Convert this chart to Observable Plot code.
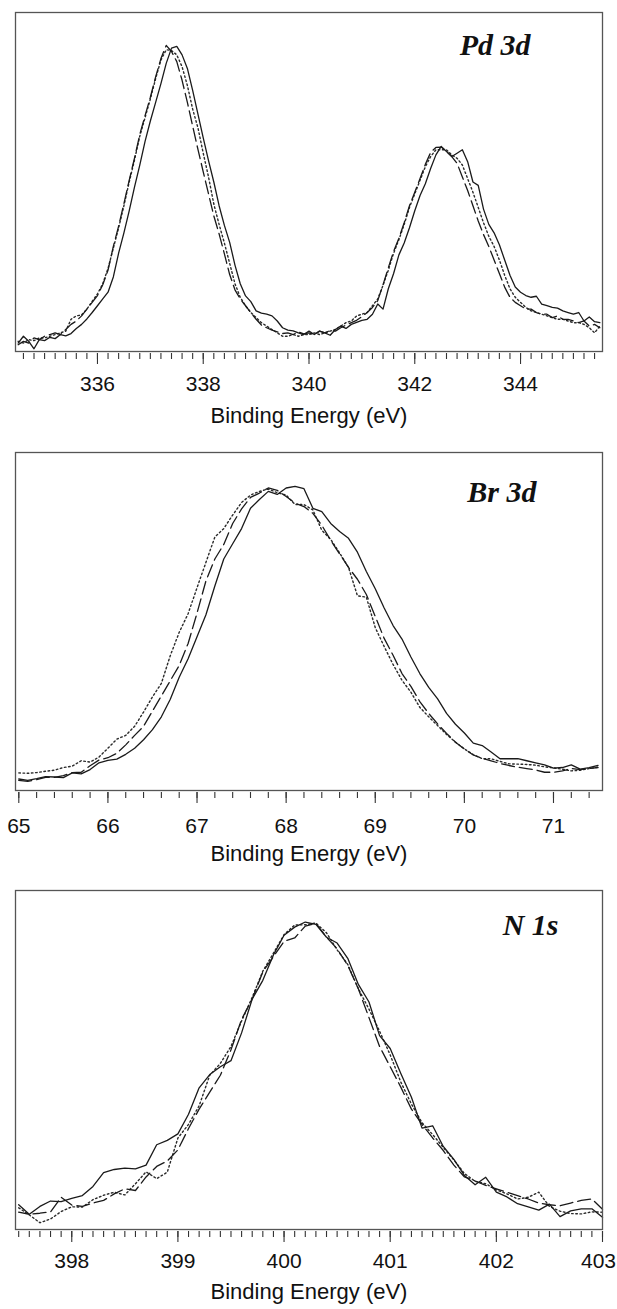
<!DOCTYPE html>
<html><head><meta charset="utf-8">
<script src="https://cdn.jsdelivr.net/npm/d3@7"></script>
<script src="https://cdn.jsdelivr.net/npm/@observablehq/plot@0.6"></script>
<style>
html,body{margin:0;padding:0;background:#fff;}
#chart{width:617px;}
#chart svg{display:block;}
</style></head><body><div id="chart"></div>
<script>
// ---------- Pd 3d ----------
const pdEnergy = [
334.5,334.6,334.7,334.8,334.9,335.0,335.1,335.2,335.3,335.4,
335.5,335.6,335.7,335.8,335.9,336.0,336.1,336.2,336.3,336.4,
336.5,336.6,336.7,336.8,336.9,337.0,337.1,337.2,337.3,337.4,
337.5,337.6,337.7,337.8,337.9,338.0,338.1,338.2,338.3,338.4,
338.5,338.6,338.7,338.8,338.9,339.0,339.1,339.2,339.3,339.4,
339.5,339.6,339.7,339.8,339.9,340.0,340.1,340.2,340.3,340.4,
340.5,340.6,340.7,340.8,340.9,341.0,341.1,341.2,341.3,341.4,
341.5,341.6,341.7,341.8,341.9,342.0,342.1,342.2,342.3,342.4,
342.5,342.6,342.7,342.8,342.9,343.0,343.1,343.2,343.3,343.4,
343.5,343.6,343.7,343.8,343.9,344.0,344.1,344.2,344.3,344.4,
344.5,344.6,344.7,344.8,344.9,345.0,345.1,345.2,345.3,345.4,
345.5];
const pdSolid = [
2.5,4.5,3,0.8,3.5,3.2,4.2,3.8,5,4.6,
5.3,6.8,8,9.6,11.5,13.5,15.5,17.5,22,29,
35,41.5,48.5,55,62,68,73.5,79,85,89.5,
90,87.5,83.5,77,70,63,56.3,50,43,37.2,
32.2,25.5,20,16.4,14.7,12,11.3,11,10.5,9,
7,6.3,6.1,5.5,5,6,5,6,5.5,4.8,
6.5,7.5,6.8,8,8.6,9.2,9.5,11,14,12.5,
18.5,23,28.5,32,36.5,41.5,46,49.5,54,58,
60.5,59,57.5,58.5,59.5,56,50,49,42,37.5,
35,31.5,27,22.5,19,17.5,16.5,16,16.3,14,
13.5,13,12.8,12,11.5,11,11.5,9,10.2,8.8,
8.5];
const pdDashed = [
2,3,2.5,4,3.5,4.5,5,5.5,5,6.5,
8,9,10.5,12.5,14.5,16.5,19.7,24,31,37,
43.6,50.5,57,64,69.6,75,81,86.4,90.3,88.5,
85.5,80,73.5,66.5,59.6,53,46.5,40,34.7,28.8,
22.7,18.2,15.5,13.5,11.5,9.5,7.8,7,6.3,5.8,
5.3,5.5,5,5.8,5.2,5.5,5,6,5.5,6.2,
6,7,7.8,8.5,9.2,10.3,11.5,13,15,19.7,
24.7,29.5,33.4,38,43,47,51,55.2,58.7,60.2,
60.3,59,57.5,55.5,51.5,47.5,43,38.5,34.5,31,
27,23,19,16,14.5,13.5,12.5,12.5,11.5,11,
11,10,10.5,9.5,9.5,9,8.5,9,7.5,8,
7];
const pdDotted = [
3,2.5,3.5,3.2,4,4,4.5,5,5.5,6,
9.5,10.5,10.8,12.5,14.8,17,20,24.5,30.5,36.5,
43,50,56.5,63.5,69,74.5,80.5,86,89,88.8,
87.5,84,78.5,71.5,66,58.5,51.5,43.5,37.5,32,
26,20,16,13.5,11.5,10,8.5,7.5,6.5,5.5,
4.5,4.5,5,4.5,5,5,5.5,5,5.5,6,
6.5,7.5,8.5,9,10.5,11,11.5,13.5,15.5,19.5,
24,29,33,37.5,42.5,46.5,50.5,54.5,57.5,59.5,
59.5,59.5,58,57,55,51,47,42.5,38,34,
31,27,22.5,18.5,16,14.5,13,12,11.5,11,
10.5,10,9.5,9.5,9,8.5,8.5,8,7,5.5,
7.5];
const pdMajorTicks = [336, 338, 340, 342, 344];

// ---------- Br 3d ----------
const brEnergy = [
65.0,65.1,65.2,65.3,65.4,65.5,65.6,65.7,65.8,65.9,
66.0,66.1,66.2,66.3,66.4,66.5,66.6,66.7,66.8,66.9,
67.0,67.1,67.2,67.3,67.4,67.5,67.6,67.7,67.8,67.9,
68.0,68.1,68.2,68.3,68.4,68.5,68.6,68.7,68.8,68.9,
69.0,69.1,69.2,69.3,69.4,69.5,69.6,69.7,69.8,69.9,
70.0,70.1,70.2,70.3,70.4,70.5,70.6,70.7,70.8,70.9,
71.0,71.1,71.2,71.3,71.4,71.5];
const brSolid = [
3.4,3.0,3.5,4.1,4.0,3.8,5.2,4.9,6.2,8.2,
8.9,9.3,10.7,12.5,15,18,21.8,27,33.5,39,
45.5,52,60.5,68.5,73,77.5,83.5,86.1,88.5,87.6,
89.5,90,89.3,83.5,82.5,79,76.6,74.6,70.5,64.8,
59.7,54,48.8,44.8,39.5,34.6,30.5,27.1,22.8,19.6,
17,14,13.3,11.4,9.4,9.4,9.4,8.8,8.2,7.6,
6.6,6.8,7.6,6.3,6.8,7.4];
const brDashed = [
3.0,2.7,3.2,3.9,3.9,4.4,5.3,5.4,7.3,9.0,
9.7,11,13.5,16.3,19,23.5,28,32.5,37,43.5,
52.5,62,68.5,72.8,79,83.3,86.7,88,89.5,88.8,
87,85,84,82,78.5,74,70,66,62.5,58,
51.5,45,40,34.6,30.8,26.3,22.8,19.7,16.9,14.3,
12.3,10.5,9.5,8.8,8,7.4,6.9,6.5,6.1,5.4,
5.4,5.8,6.5,6.2,6.5,6.8];
const brDotted = [
5.2,5.1,5.3,5.7,6.0,6.8,7.2,8.8,8.4,9.9,
12.5,15.2,16.3,19,23.2,27.7,31.7,39.9,46.8,52.3,
60,67.5,75,77.5,81.5,85.2,87.4,88.5,89.2,88.1,
87.4,84.6,84.6,83,77,74.3,70.3,66,57.6,57.2,
48.2,42.6,37.3,32.6,29.1,24.6,21.8,19.2,16.6,14.3,
12.3,10.6,9.4,9.4,8.6,7.9,7.8,7.7,7.5,7.0,
6.7,6.3,5.8,6.0,6.5,6.9];
const brMajorTicks = [65, 66, 67, 68, 69, 70, 71];

// ---------- N 1s ----------
const nEnergy = [
397.5,397.6,397.7,397.8,397.9,398.0,398.1,398.2,398.3,398.4,
398.5,398.6,398.7,398.8,398.9,399.0,399.1,399.2,399.3,399.4,
399.5,399.6,399.7,399.8,399.9,400.0,400.1,400.2,400.3,400.4,
400.5,400.6,400.7,400.8,400.9,401.0,401.1,401.2,401.3,401.4,
401.5,401.6,401.7,401.8,401.9,402.0,402.1,402.2,402.3,402.4,
402.5,402.6,402.7,402.8,402.9,403.0];
const nSolid = [
5.1,4.5,6.8,8.4,8.2,9.2,10,12.7,16.8,17.7,
18.1,17.9,19,25,26.3,28.2,34,41.8,45.7,48,
49.8,58,68,73.5,81,86.8,89.2,90.7,90,86.2,
84.5,80,72.3,67.1,57.2,53.4,46,39,29.9,30.6,
24.5,20.7,15.9,13.2,15.4,11,9.6,7.6,6.7,5.7,
7.5,3.8,5.5,6.1,6.1,3.6];
const nDashed = [
7.3,4.5,4.8,5.2,9.5,7.2,6.8,7.8,8.6,10.5,
12,11.5,15.5,18.6,20.2,23.5,29.8,35.5,40.5,45.5,
53,62,68,76,80.5,85,86,89.5,90.3,86.2,
82.8,77.9,71,62.5,54,48,42,35.5,31,27,
23.3,19,15.5,14.3,13,12,11,10,9,7.8,
7.3,7,7.8,8.6,9,6];
const nDotted = [
6.4,4.3,2,3.1,5.3,6.7,6.6,8.8,10.1,11,
10.2,13.5,17,15,16.9,27,31,36.5,45.5,49,
54,61.5,68.5,76.2,81.5,87,89.8,89.9,90.4,87.5,
82.5,78.2,71,65,58.5,51.5,43.5,37,31.5,28,
24.2,20.5,16.5,14.2,13.5,11.7,10.5,9,9.5,11,
6.8,5.4,4.7,4.6,5.2,5.1];
const nMajorTicks = [398, 399, 400, 401, 402, 403];

const panelLabels = ["Pd 3d", "Br 3d", "N 1s"];
const axisTitle = "Binding Energy (eV)";

const panels = [
  {energy: pdEnergy, solid: pdSolid, dashed: pdDashed, dotted: pdDotted,
   domain: [334.45, 345.55], major: pdMajorTicks,
   minor: d3.range(3346, 3455, 2).map(v => v / 10),
   label: panelLabels[0], labelDx: -72, labelDy: 42,
   height: 440, marginTop: 12, marginBottom: 89, tickPadding: 12, titleOffset: 71},
  {energy: brEnergy, solid: brSolid, dashed: brDashed, dotted: brDotted,
   domain: [64.963, 71.55], major: brMajorTicks,
   minor: d3.range(650, 715, 2).map(v => v / 10),
   label: panelLabels[1], labelDx: -66, labelDy: 49,
   height: 440, marginTop: 12, marginBottom: 90, tickPadding: 15, titleOffset: 70},
  {energy: nEnergy, solid: nSolid, dashed: nDashed, dotted: nDotted,
   domain: [397.47, 403.0], major: nMajorTicks,
   minor: d3.range(3975, 4031, 1).map(v => v / 10),
   label: panelLabels[2], labelDx: -44, labelDy: 44,
   height: 429, marginTop: 10, marginBottom: 80, tickPadding: 11, titleOffset: 69}
];

const sans = '"Liberation Sans", Arial, Helvetica, sans-serif';
const serif = '"Liberation Serif", "Times New Roman", Times, serif';
const chart = document.getElementById("chart");

for (const p of panels) {
  const ex = (d, i) => p.energy[i];
  const edge = p.domain[1] - 0.15;
  const tickText = {x: d => d, text: d => String(d), frameAnchor: "bottom",
    dy: 2 + 11 + p.tickPadding, lineAnchor: "top", fontSize: 21, fill: "#111"};
  const svg = Plot.plot({
    width: 617,
    height: p.height,
    marginLeft: 15,
    marginRight: 15,
    marginTop: p.marginTop,
    marginBottom: p.marginBottom,
    x: {domain: p.domain},
    y: {domain: [0, 100], axis: null},
    style: {fontFamily: sans, background: "#fff", color: "#111"},
    marks: [
      Plot.axisX(p.minor, {tickSize: 6, tickFormat: () => "", dy: 2, stroke: "#333", strokeWidth: 1.1, label: null}),
      Plot.axisX(p.major, {tickSize: 11, tickFormat: () => "", dy: 2, stroke: "#333", strokeWidth: 1.1, label: null}),
      Plot.text(p.major.filter(d => d <= edge), tickText),
      Plot.text(p.major.filter(d => d > edge), {...tickText, dx: -4}),
      Plot.text([axisTitle], {frameAnchor: "bottom", dy: p.titleOffset, lineAnchor: "bottom",
        fontSize: 22, fill: "#111"}),
      Plot.line(p.dotted, {x: ex, y: d => d, stroke: "#2a2a2a", strokeWidth: 1.4, strokeDasharray: "1.6,2.6"}),
      Plot.line(p.dashed, {x: ex, y: d => d, stroke: "#1a1a1a", strokeWidth: 1.3, strokeDasharray: "13,5"}),
      Plot.line(p.solid, {x: ex, y: d => d, stroke: "#1a1a1a", strokeWidth: 1.3}),
      Plot.frame({stroke: "#555", strokeWidth: 1.3}),
      Plot.text([p.label], {frameAnchor: "top-right", dx: p.labelDx, dy: p.labelDy,
        textAnchor: "end", lineAnchor: "bottom", fontFamily: serif, fontStyle: "italic",
        fontWeight: "bold", fontSize: 30, fill: "#111"})
    ]
  });
  chart.appendChild(svg);
}
</script>
</body></html>
